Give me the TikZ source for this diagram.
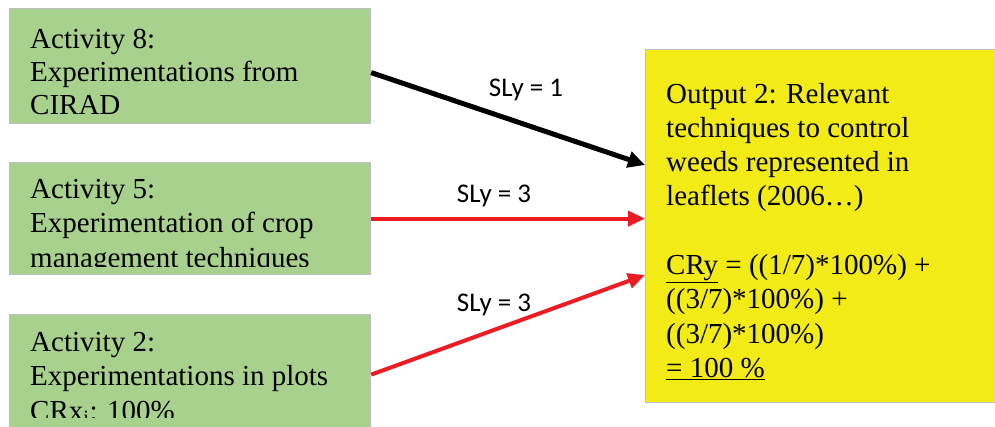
\documentclass[tikz,border=0pt]{standalone}
\usepackage{fontspec}
\setmainfont{Liberation Serif}
\newfontfamily\labelfont{Carlito}
\usetikzlibrary{arrows.meta,calc}
\definecolor{boxgreen}{RGB}{169,209,142}
\definecolor{boxyellow}{RGB}{242,235,22}
\definecolor{boxborder}{RGB}{191,191,191}
\definecolor{arrred}{RGB}{237,28,36}
\begin{document}
\begin{tikzpicture}[x=1pt,y=-1pt,
  box/.style={draw=boxborder,line width=1.2pt,fill=boxgreen,anchor=north west,inner sep=0pt,minimum width=361pt},
  outbox/.style={draw=boxborder,line width=1.2pt,fill=boxyellow,anchor=north west,inner sep=0pt,minimum width=360pt,minimum height=353pt},
  txt/.style={anchor=base west,inner sep=0pt,font=\fontsize{29}{33}\selectfont},
  txtb/.style={anchor=base west,inner sep=0pt,font=\fontsize{29}{34.5}\selectfont},
  otxt/.style={anchor=base west,inner sep=0pt,font=\fontsize{29}{34.3}\selectfont},
  lbl/.style={font=\labelfont\fontsize{27}{32}\selectfont,inner sep=0pt},
  blackconn/.style={draw=black,line width=5pt,-{Triangle[length=17pt,width=16pt]}},
  redconn/.style={draw=arrred,line width=4pt,-{Triangle[length=17pt,width=15pt]}}]
\useasboundingbox (0,0) rectangle (995,426);
\clip (0,0) rectangle (995,426);
% boxes
\node[box,minimum height=115pt] (a8) at (9,8) {};
\node[box,minimum height=112pt] (a5) at (9,162) {};
\node[box,minimum height=120pt] (a2) at (9,314) {};
\node[outbox] (out) at (645,49) {};
% texts
\node[txt] (t8) at (30,48) {\parbox[t]{330pt}{\raggedright Activity 8:\\Experimentations from\\CIRAD}};
\begin{scope}
  \clip (17,170) rectangle (362,266);
  \node[txtb] (t5) at (30,198) {\parbox[t]{330pt}{\raggedright Activity 5:\\Experimentation of crop\\management techniques}};
\end{scope}
\begin{scope}
  \clip (17,322) rectangle (362,417);
  \node[txtb] (t2) at (30,351) {\parbox[t]{330pt}{\raggedright Activity 2:\\Experimentations in plots\\CRx\textsubscript{i}: 100\%}};
\end{scope}
\node[otxt] (tout) at (666,103) {\parbox[t]{320pt}{\raggedright Output 2: Relevant\\techniques to control\\weeds represented in\\leaflets (2006…)\\\mbox{}\\\underline{CRy} = ((1/7)*100\%) +\\((3/7)*100\%) +\\((3/7)*100\%)\\\underline{= 100 \%}}};
% connector ends
\coordinate (s8) at ([yshift=-6.5pt]a8.east);
\coordinate (e8) at (645,165);
\coordinate (e5) at (out.west |- a5.east);
\coordinate (e2) at (645,275);
% connectors
\draw[blackconn] (s8) -- (e8);
\draw[redconn] (a5.east) -- (e5);
\draw[redconn] (a2.east) -- (e2);
% labels
\node[lbl] (l8) at (526,90) {SLy = 1};
\node[lbl] (l5) at (494,196) {SLy = 3};
\node[lbl] (l2) at (494,305) {SLy = 3};
\end{tikzpicture}
\end{document}
